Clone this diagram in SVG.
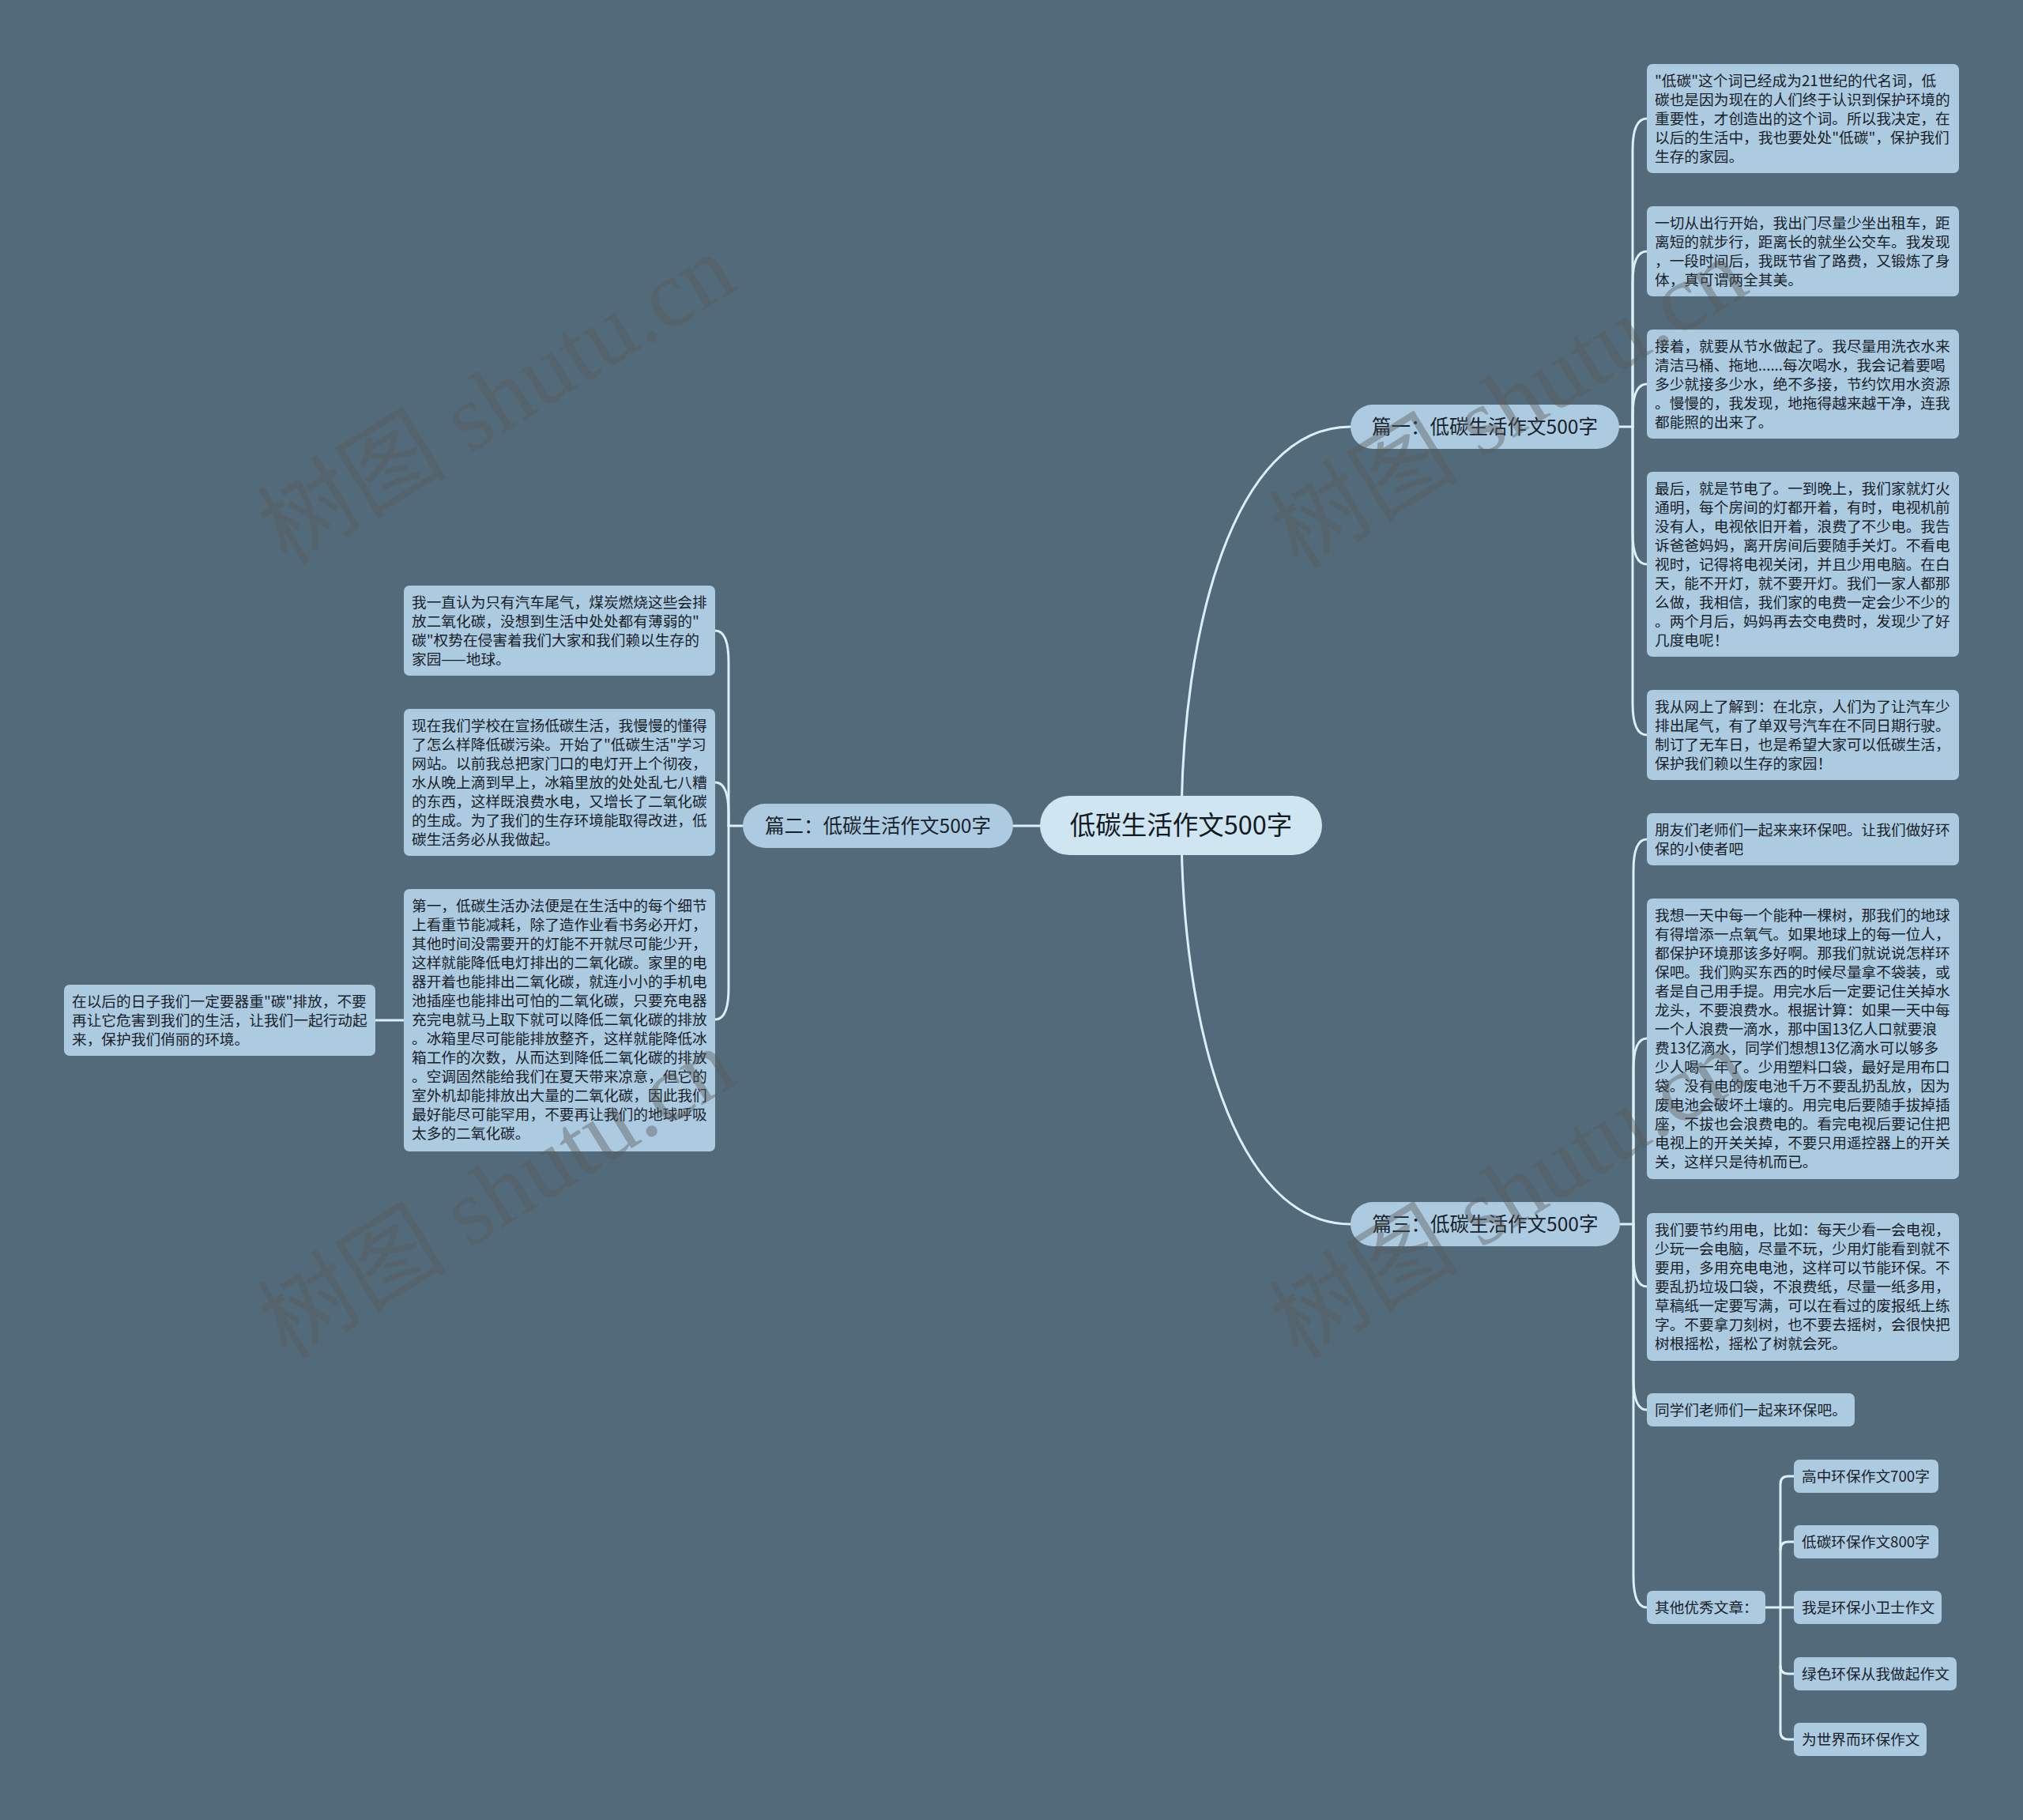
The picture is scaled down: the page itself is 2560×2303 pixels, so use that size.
<svg xmlns="http://www.w3.org/2000/svg" width="2560" height="2303" viewBox="0 0 2560 2303">
<style>
.bg{fill:#536a7a}
.n rect{fill:#adcbe0}
.t{font-family:"Noto Sans CJK SC","Noto Sans",sans-serif;font-size:18.7px;fill:#17212a}
.b rect{fill:#adcbe0}
.bt{font-family:"Noto Sans CJK SC","Noto Sans",sans-serif;font-size:24.5px;fill:#17212a;text-anchor:middle}
.root rect{fill:#cfe5f1}
.rt{font-family:"Noto Sans CJK SC","Noto Sans",sans-serif;font-size:32.5px;fill:#121a22;text-anchor:middle}
.c path{fill:none;stroke:#dcf0fa;stroke-width:3;stroke-linecap:round}
.wm{font-family:"Liberation Serif","Noto Sans CJK SC",serif;font-size:120px;fill:#5a5a5a;opacity:0.42;text-anchor:middle}
</style>
<rect class="bg" x="0" y="0" width="2560" height="2303"/>

<g id="connectors" class="c">
<path d="M1495,1044 C1495,800 1560,540 1709,540"/>
<path d="M1495,1044 C1495,1290 1560,1549 1709,1549"/>
<path d="M1316,1045 H1282"/>
<path d="M2049,540 H2066"/>
<path d="M2066,540 V190 C2066,162 2072,150 2084,150"/>
<path d="M2066,540 V358 C2066,330 2072,318 2084,318"/>
<path d="M2066,540 V526 C2066,498 2072,486 2084,486"/>
<path d="M2066,540 V674 C2066,702 2072,714 2084,714"/>
<path d="M2066,540 V890 C2066,918 2072,930 2084,930"/>
<path d="M2050,1549 H2067"/>
<path d="M2067,1549 V1102 C2067,1074 2073,1062 2084,1062"/>
<path d="M2067,1549 V1354 C2067,1326 2073,1314 2084,1314"/>
<path d="M2067,1549 V1588 C2067,1616 2073,1628 2084,1628"/>
<path d="M2067,1549 V1744 C2067,1772 2073,1784 2084,1784"/>
<path d="M2067,1549 V1994 C2067,2022 2073,2034 2084,2034"/>
<path d="M2234,2034 H2270"/>
<path d="M2270,1868 H2263 Q2253,1868 2253,1878 V2191 Q2253,2201 2263,2201 H2270"/>
<path d="M2253,1961 Q2253,1951 2263,1951 H2270"/>
<path d="M2253,2108 Q2253,2118 2263,2118 H2270"/>
<path d="M940,1045 H922"/>
<path d="M922,1045 V838 C922,810 916,798 905,798"/>
<path d="M922,1045 V1030 C922,1002 916,990 905,990"/>
<path d="M922,1045 V1250 C922,1278 916,1290 905,1290"/>
<path d="M511,1291 H475"/>
</g>

<g id="root" class="root">
<rect x="1316" y="1007" width="357" height="75" rx="37.5"/>
<text class="rt" x="1494.5" y="1056">低碳生活作文500字</text>
</g>

<g id="branch1" class="b">
<rect x="1709" y="512" width="340" height="56" rx="28"/>
<text class="bt" x="1879" y="549">篇一：低碳生活作文500字</text>
</g>
<g id="branch2" class="b">
<rect x="940" y="1017" width="342" height="56" rx="28"/>
<text class="bt" x="1111" y="1054">篇二：低碳生活作文500字</text>
</g>
<g id="branch3" class="b">
<rect x="1709" y="1521" width="341" height="56" rx="28"/>
<text class="bt" x="1879.5" y="1558">篇三：低碳生活作文500字</text>
</g>

<g id="c1" class="n">
<rect x="2084" y="81" width="395" height="138" rx="7"/>
<text class="t" x="2094" y="109"><tspan x="2094">"低碳"这个词已经成为21世纪的代名词，低</tspan><tspan x="2094" dy="24">碳也是因为现在的人们终于认识到保护环境的</tspan><tspan x="2094" dy="24">重要性，才创造出的这个词。所以我决定，在</tspan><tspan x="2094" dy="24">以后的生活中，我也要处处"低碳"，保护我们</tspan><tspan x="2094" dy="24">生存的家园。</tspan></text>
</g>
<g id="c2" class="n">
<rect x="2084" y="261" width="395" height="114" rx="7"/>
<text class="t" x="2094" y="289"><tspan x="2094">一切从出行开始，我出门尽量少坐出租车，距</tspan><tspan x="2094" dy="24">离短的就步行，距离长的就坐公交车。我发现</tspan><tspan x="2094" dy="24">，一段时间后，我既节省了路费，又锻炼了身</tspan><tspan x="2094" dy="24">体，真可谓两全其美。</tspan></text>
</g>
<g id="c3" class="n">
<rect x="2084" y="417" width="395" height="138" rx="7"/>
<text class="t" x="2094" y="445"><tspan x="2094">接着，就要从节水做起了。我尽量用洗衣水来</tspan><tspan x="2094" dy="24">清洁马桶、拖地......每次喝水，我会记着要喝</tspan><tspan x="2094" dy="24">多少就接多少水，绝不多接，节约饮用水资源</tspan><tspan x="2094" dy="24">。慢慢的，我发现，地拖得越来越干净，连我</tspan><tspan x="2094" dy="24">都能照的出来了。</tspan></text>
</g>
<g id="c4" class="n">
<rect x="2084" y="597" width="395" height="234" rx="7"/>
<text class="t" x="2094" y="625"><tspan x="2094">最后，就是节电了。一到晚上，我们家就灯火</tspan><tspan x="2094" dy="24">通明，每个房间的灯都开着，有时，电视机前</tspan><tspan x="2094" dy="24">没有人，电视依旧开着，浪费了不少电。我告</tspan><tspan x="2094" dy="24">诉爸爸妈妈，离开房间后要随手关灯。不看电</tspan><tspan x="2094" dy="24">视时，记得将电视关闭，并且少用电脑。在白</tspan><tspan x="2094" dy="24">天，能不开灯，就不要开灯。我们一家人都那</tspan><tspan x="2094" dy="24">么做，我相信，我们家的电费一定会少不少的</tspan><tspan x="2094" dy="24">。两个月后，妈妈再去交电费时，发现少了好</tspan><tspan x="2094" dy="24">几度电呢！</tspan></text>
</g>
<g id="c5" class="n">
<rect x="2084" y="873" width="395" height="114" rx="7"/>
<text class="t" x="2094" y="901"><tspan x="2094">我从网上了解到：在北京，人们为了让汽车少</tspan><tspan x="2094" dy="24">排出尾气，有了单双号汽车在不同日期行驶。</tspan><tspan x="2094" dy="24">制订了无车日，也是希望大家可以低碳生活，</tspan><tspan x="2094" dy="24">保护我们赖以生存的家园！</tspan></text>
</g>

<g id="d1" class="n">
<rect x="2084" y="1029" width="395" height="66" rx="7"/>
<text class="t" x="2094" y="1057"><tspan x="2094">朋友们老师们一起来来环保吧。让我们做好环</tspan><tspan x="2094" dy="24">保的小使者吧</tspan></text>
</g>
<g id="d2" class="n">
<rect x="2084" y="1137" width="395" height="355" rx="7"/>
<text class="t" x="2094" y="1165"><tspan x="2094">我想一天中每一个能种一棵树，那我们的地球</tspan><tspan x="2094" dy="24">有得增添一点氧气。如果地球上的每一位人，</tspan><tspan x="2094" dy="24">都保护环境那该多好啊。那我们就说说怎样环</tspan><tspan x="2094" dy="24">保吧。我们购买东西的时候尽量拿不袋装，或</tspan><tspan x="2094" dy="24">者是自己用手提。用完水后一定要记住关掉水</tspan><tspan x="2094" dy="24">龙头，不要浪费水。根据计算：如果一天中每</tspan><tspan x="2094" dy="24">一个人浪费一滴水，那中国13亿人口就要浪</tspan><tspan x="2094" dy="24">费13亿滴水，同学们想想13亿滴水可以够多</tspan><tspan x="2094" dy="24">少人喝一年了。少用塑料口袋，最好是用布口</tspan><tspan x="2094" dy="24">袋。没有电的废电池千万不要乱扔乱放，因为</tspan><tspan x="2094" dy="24">废电池会破坏土壤的。用完电后要随手拔掉插</tspan><tspan x="2094" dy="24">座，不拔也会浪费电的。看完电视后要记住把</tspan><tspan x="2094" dy="24">电视上的开关关掉，不要只用遥控器上的开关</tspan><tspan x="2094" dy="24">关，这样只是待机而已。</tspan></text>
</g>
<g id="d3" class="n">
<rect x="2084" y="1535" width="395" height="187" rx="7"/>
<text class="t" x="2094" y="1563"><tspan x="2094">我们要节约用电，比如：每天少看一会电视，</tspan><tspan x="2094" dy="24">少玩一会电脑，尽量不玩，少用灯能看到就不</tspan><tspan x="2094" dy="24">要用，多用充电电池，这样可以节能环保。不</tspan><tspan x="2094" dy="24">要乱扔垃圾口袋，不浪费纸，尽量一纸多用，</tspan><tspan x="2094" dy="24">草稿纸一定要写满，可以在看过的废报纸上练</tspan><tspan x="2094" dy="24">字。不要拿刀刻树，也不要去摇树，会很快把</tspan><tspan x="2094" dy="24">树根摇松，摇松了树就会死。</tspan></text>
</g>
<g id="d4" class="n">
<rect x="2084" y="1763" width="263" height="42" rx="7"/>
<text class="t" x="2094" y="1791">同学们老师们一起来环保吧。</text>
</g>
<g id="d5" class="n">
<rect x="2084" y="2013" width="150" height="42" rx="7"/>
<text class="t" x="2094" y="2041">其他优秀文章：</text>
</g>
<g id="e1" class="n">
<rect x="2270" y="1847" width="183" height="42" rx="7"/>
<text class="t" x="2280" y="1875">高中环保作文700字</text>
</g>
<g id="e2" class="n">
<rect x="2270" y="1930" width="183" height="42" rx="7"/>
<text class="t" x="2280" y="1958">低碳环保作文800字</text>
</g>
<g id="e3" class="n">
<rect x="2270" y="2013" width="187" height="42" rx="7"/>
<text class="t" x="2280" y="2041">我是环保小卫士作文</text>
</g>
<g id="e4" class="n">
<rect x="2270" y="2097" width="206" height="42" rx="7"/>
<text class="t" x="2280" y="2125">绿色环保从我做起作文</text>
</g>
<g id="e5" class="n">
<rect x="2270" y="2180" width="168" height="42" rx="7"/>
<text class="t" x="2280" y="2208">为世界而环保作文</text>
</g>

<g id="l1" class="n">
<rect x="511" y="741" width="394" height="114" rx="7"/>
<text class="t" x="521" y="769"><tspan x="521">我一直认为只有汽车尾气，煤炭燃烧这些会排</tspan><tspan x="521" dy="24">放二氧化碳，没想到生活中处处都有薄弱的"</tspan><tspan x="521" dy="24">碳"权势在侵害着我们大家和我们赖以生存的</tspan><tspan x="521" dy="24">家园——地球。</tspan></text>
</g>
<g id="l2" class="n">
<rect x="511" y="897" width="394" height="186" rx="7"/>
<text class="t" x="521" y="925"><tspan x="521">现在我们学校在宣扬低碳生活，我慢慢的懂得</tspan><tspan x="521" dy="24">了怎么样降低碳污染。开始了"低碳生活"学习</tspan><tspan x="521" dy="24">网站。以前我总把家门口的电灯开上个彻夜，</tspan><tspan x="521" dy="24">水从晚上滴到早上，冰箱里放的处处乱七八糟</tspan><tspan x="521" dy="24">的东西，这样既浪费水电，又增长了二氧化碳</tspan><tspan x="521" dy="24">的生成。为了我们的生存环境能取得改进，低</tspan><tspan x="521" dy="24">碳生活务必从我做起。</tspan></text>
</g>
<g id="l3" class="n">
<rect x="511" y="1125" width="394" height="332" rx="7"/>
<text class="t" x="521" y="1153"><tspan x="521">第一，低碳生活办法便是在生活中的每个细节</tspan><tspan x="521" dy="24">上看重节能减耗，除了造作业看书务必开灯，</tspan><tspan x="521" dy="24">其他时间没需要开的灯能不开就尽可能少开，</tspan><tspan x="521" dy="24">这样就能降低电灯排出的二氧化碳。家里的电</tspan><tspan x="521" dy="24">器开着也能排出二氧化碳，就连小小的手机电</tspan><tspan x="521" dy="24">池插座也能排出可怕的二氧化碳，只要充电器</tspan><tspan x="521" dy="24">充完电就马上取下就可以降低二氧化碳的排放</tspan><tspan x="521" dy="24">。冰箱里尽可能能排放整齐，这样就能降低冰</tspan><tspan x="521" dy="24">箱工作的次数，从而达到降低二氧化碳的排放</tspan><tspan x="521" dy="24">。空调固然能给我们在夏天带来凉意，但它的</tspan><tspan x="521" dy="24">室外机却能排放出大量的二氧化碳，因此我们</tspan><tspan x="521" dy="24">最好能尽可能罕用，不要再让我们的地球呼吸</tspan><tspan x="521" dy="24">太多的二氧化碳。</tspan></text>
</g>
<g id="l4" class="n">
<rect x="81" y="1246" width="394" height="90" rx="7"/>
<text class="t" x="91" y="1274"><tspan x="91">在以后的日子我们一定要器重"碳"排放，不要</tspan><tspan x="91" dy="24">再让它危害到我们的生活，让我们一起行动起</tspan><tspan x="91" dy="24">来，保护我们俏丽的环境。</tspan></text>
</g>

<g id="watermark">
<text class="wm" transform="translate(650,540) rotate(-31.6)">树图 shutu.cn</text>
<text class="wm" transform="translate(1930,545) rotate(-31.6)">树图 shutu.cn</text>
<text class="wm" transform="translate(650,1545) rotate(-31.6)">树图 shutu.cn</text>
<text class="wm" transform="translate(1930,1545) rotate(-31.6)">树图 shutu.cn</text>
</g>
</svg>
